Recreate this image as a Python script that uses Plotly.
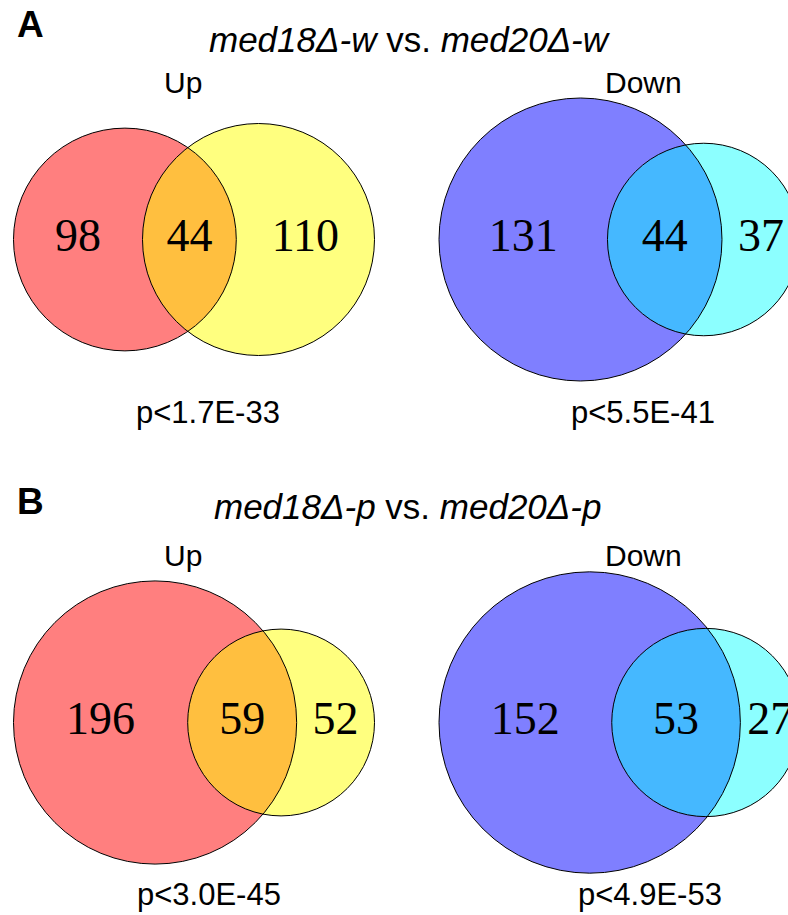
import numpy as np
import plotly.graph_objects as go

# ---- data -------------------------------------------------------------
panel_letters = ["A", "B"]
panel_titles = ["<i>med18Δ-w</i> vs. <i>med20Δ-w</i>",
                "<i>med18Δ-p</i> vs. <i>med20Δ-p</i>"]
directions = ["Up", "Down"]

# gene counts: only med18Δ, shared, only med20Δ
up_only_med18 = [98, 196]
up_shared = [44, 59]
up_only_med20 = [110, 52]
down_only_med18 = [131, 152]
down_shared = [44, 53]
down_only_med20 = [37, 27]

up_pvalues = ["p<1.7E-33", "p<3.0E-45"]
down_pvalues = ["p<5.5E-41", "p<4.9E-53"]

# colours of the two sets (drawn half transparent so the overlap mixes)
up_colors = ["rgba(255,0,0,0.5)", "rgba(255,255,0,0.5)"]
down_colors = ["rgba(0,0,255,0.5)", "rgba(0,255,255,0.45)"]

# ---- layout constants (pixels) ----------------------------------------
W, H = 788, 915
DIAGRAM_WIDTH = 361
COLUMN_LEFT = [13.5, 439.0]
ROW_CENTER = [239.5, 722.5]
LETTER_Y = [24, 501]
TITLE_X = [410, 407.5]
TITLE_Y = [39, 506]
DIR_X = [182.5, 643]
DIR_Y = [82, 555]
P_X = [[207.5, 643], [208.5, 650]]
P_Y = [412, 894]

SANS = "Liberation Sans, Arial, Helvetica, sans-serif"
SERIF = "Liberation Serif, Times New Roman, serif"


def lens_area(r1, r2, d):
    if d >= r1 + r2:
        return 0.0
    if d <= abs(r1 - r2):
        return np.pi * min(r1, r2) ** 2
    a1 = r1 ** 2 * np.arccos((d * d + r1 * r1 - r2 * r2) / (2 * d * r1))
    a2 = r2 ** 2 * np.arccos((d * d + r2 * r2 - r1 * r1) / (2 * d * r2))
    a3 = 0.5 * np.sqrt((-d + r1 + r2) * (d + r1 - r2) * (d - r1 + r2) * (d + r1 + r2))
    return a1 + a2 - a3


def venn_geometry(only1, both, only2, left, width):
    """Area-proportional two-set Venn: circle areas and lens area follow the counts."""
    r1 = np.sqrt((only1 + both) / np.pi)
    r2 = np.sqrt((only2 + both) / np.pi)
    lo, hi = abs(r1 - r2), r1 + r2
    for _ in range(200):
        mid = 0.5 * (lo + hi)
        if lens_area(r1, r2, mid) > both:
            lo = mid
        else:
            hi = mid
    d = 0.5 * (lo + hi)
    s = width / (r1 + d + r2)
    r1, r2, d = r1 * s, r2 * s, d * s
    c1 = left + r1
    c2 = c1 + d
    return c1, r1, c2, r2


fig = go.Figure()
fill_shapes, outline_shapes, annotations = [], [], []
num_x, num_y, num_text = [], [], []

for row in range(2):
    cy = ROW_CENTER[row]
    sets = [
        (up_only_med18[row], up_shared[row], up_only_med20[row], up_colors),
        (down_only_med18[row], down_shared[row], down_only_med20[row], down_colors),
    ]
    for col, (a, ab, b, colors) in enumerate(sets):
        c1, r1, c2, r2 = venn_geometry(a, ab, b, COLUMN_LEFT[col], DIAGRAM_WIDTH)
        for (cx, r, color) in [(c1, r1, colors[0]), (c2, r2, colors[1])]:
            fill_shapes.append(dict(type="circle", xref="x", yref="y",
                                    x0=cx - r, x1=cx + r, y0=cy - r, y1=cy + r,
                                    fillcolor=color, line=dict(width=0), layer="below"))
            outline_shapes.append(dict(type="circle", xref="x", yref="y",
                                       x0=cx - r, x1=cx + r, y0=cy - r, y1=cy + r,
                                       fillcolor="rgba(0,0,0,0)",
                                       line=dict(color="black", width=1), layer="below"))
        # region labels sit midway along the line joining the centres
        num_x += [0.5 * ((c1 - r1) + (c2 - r2)),
                  0.5 * ((c2 - r2) + (c1 + r1)),
                  0.5 * ((c1 + r1) + (c2 + r2))]
        num_y += [cy, cy, cy]
        num_text += [str(a), str(ab), str(b)]

    annotations.append(dict(x=30, y=LETTER_Y[row], text="<b>%s</b>" % panel_letters[row],
                            font=dict(family=SANS, size=37, color="black")))
    annotations.append(dict(x=TITLE_X[row], y=TITLE_Y[row], text=panel_titles[row],
                            font=dict(family=SANS, size=35, color="black")))
    for col in range(2):
        annotations.append(dict(x=DIR_X[col], y=DIR_Y[row], text=directions[col],
                                font=dict(family=SANS, size=30, color="black")))
    annotations.append(dict(x=P_X[row][0], y=P_Y[row], text=up_pvalues[row],
                            font=dict(family=SANS, size=31, color="black")))
    annotations.append(dict(x=P_X[row][1], y=P_Y[row], text=down_pvalues[row],
                            font=dict(family=SANS, size=31, color="black")))

for ann in annotations:
    ann.update(xref="x", yref="y", showarrow=False, xanchor="center", yanchor="middle")

fig.add_trace(go.Scatter(x=num_x, y=num_y, text=num_text, mode="text",
                         textposition="middle center",
                         textfont=dict(family=SERIF, size=46, color="black"),
                         hoverinfo="skip", showlegend=False))

fig.update_layout(
    width=W, height=H,
    margin=dict(l=0, r=0, t=0, b=0),
    paper_bgcolor="white", plot_bgcolor="white",
    shapes=fill_shapes + outline_shapes,
    annotations=annotations,
    xaxis=dict(range=[0, W], domain=[0, 1], visible=False, fixedrange=True),
    yaxis=dict(range=[H, 0], domain=[0, 1], visible=False, fixedrange=True),
)

fig.write_html("out.html")
